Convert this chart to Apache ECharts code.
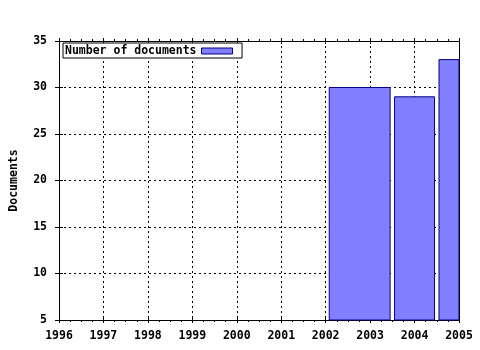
<!DOCTYPE html>
<html>
<head>
<meta charset="utf-8">
<script src="https://cdn.jsdelivr.net/npm/echarts@6/dist/echarts.min.js"></script>
<style>html,body{margin:0;padding:0;background:#fff}#c{width:480px;height:350px}</style>
</head>
<body>
<div id="c"></div>
<script>
// Data
var seriesName = 'Number of documents';
var barStart = [2002.08, 2003.55, 2004.55];
var barEnd   = [2003.45, 2004.45, 2005.45];
var documents = [30, 29, 33];
var yName = 'Documents';
var xMin = 1996, xMax = 2005, xInterval = 1;
var yMin = 5, yMax = 35, yInterval = 5;

var font = 'DejaVu Sans Mono';
var fs = 11.5;
var chart = echarts.init(document.getElementById('c'), null, {renderer: 'canvas'});
var data = documents.map(function (v, i) { return [barStart[i], barEnd[i], v]; });

function xAx(pos, inside, primary) {
  return {
    type: 'value', position: pos, min: xMin, max: xMax, interval: xInterval,
    axisLine: {show: primary, lineStyle: {color: '#000', width: 1}},
    axisTick: {show: true, inside: inside, length: 3, lineStyle: {color: '#000'}},
    minorTick: {show: !inside, splitNumber: 4, length: 2, lineStyle: {color: '#000'}},
    axisLabel: {show: primary && pos === 'bottom', margin: 10, color: '#000',
      fontFamily: font, fontWeight: 'bold', fontSize: fs,
      formatter: function (v) { return String(v); }},
    splitLine: {show: primary && pos === 'bottom', lineStyle: {color: '#000', type: [2, 3], width: 1}}
  };
}
function yAx(pos, inside, primary) {
  return {
    type: 'value', position: pos, min: yMin, max: yMax, interval: yInterval,
    name: (primary && pos === 'left') ? yName : '',
    nameLocation: 'middle', nameGap: 39,
    nameTextStyle: {color: '#000', fontFamily: font, fontWeight: 'bold', fontSize: fs},
    axisLine: {show: primary, lineStyle: {color: '#000', width: 1}},
    axisTick: {show: pos === 'left', inside: inside, length: 4, lineStyle: {color: '#000'}},
    axisLabel: {show: primary && pos === 'left', margin: 12, color: '#000',
      fontFamily: font, fontWeight: 'bold', fontSize: fs},
    splitLine: {show: primary && pos === 'left', lineStyle: {color: '#000', type: [2, 3], width: 1}}
  };
}

chart.setOption({
  animation: false,
  backgroundColor: '#fff',
  grid: {left: 57, right: 21, top: 41, bottom: 30},
  legend: {
    left: 63, top: 43, orient: 'horizontal', align: 'right',
    backgroundColor: '#fff', borderColor: '#000', borderWidth: 1,
    padding: [2, 9, 1, 2], itemWidth: 31, itemHeight: 6, itemGap: 5,
    textStyle: {color: '#000', fontFamily: font, fontWeight: 'bold', fontSize: fs},
    data: [{name: seriesName, icon: 'rect',
      itemStyle: {color: '#8080ff', borderColor: '#000080', borderWidth: 1}}]
  },
  xAxis: [xAx('bottom', false, true), xAx('bottom', true, false),
          xAx('top', false, true), xAx('top', true, false)],
  yAxis: [yAx('left', false, true), yAx('left', true, false), yAx('right', false, true)],
  series: [{
    type: 'custom', name: seriesName, xAxisIndex: 0, yAxisIndex: 0,
    itemStyle: {color: '#8080ff', borderColor: '#000080', borderWidth: 1},
    encode: {x: [0, 1], y: 2},
    renderItem: function (params, api) {
      var p0 = api.coord([api.value(0), api.value(2)]);
      var p1 = api.coord([api.value(1), yMin]);
      var rect = echarts.graphic.clipRectByRect(
        {x: p0[0], y: p0[1], width: p1[0] - p0[0], height: p1[1] - p0[1]},
        {x: params.coordSys.x, y: params.coordSys.y - 1,
         width: params.coordSys.width, height: params.coordSys.height + 1});
      if (!rect) return;
      return {type: 'rect', shape: rect,
        style: {fill: '#8080ff', stroke: '#000080', lineWidth: 1}};
    },
    data: data
  }]
});
</script>
</body>
</html>
